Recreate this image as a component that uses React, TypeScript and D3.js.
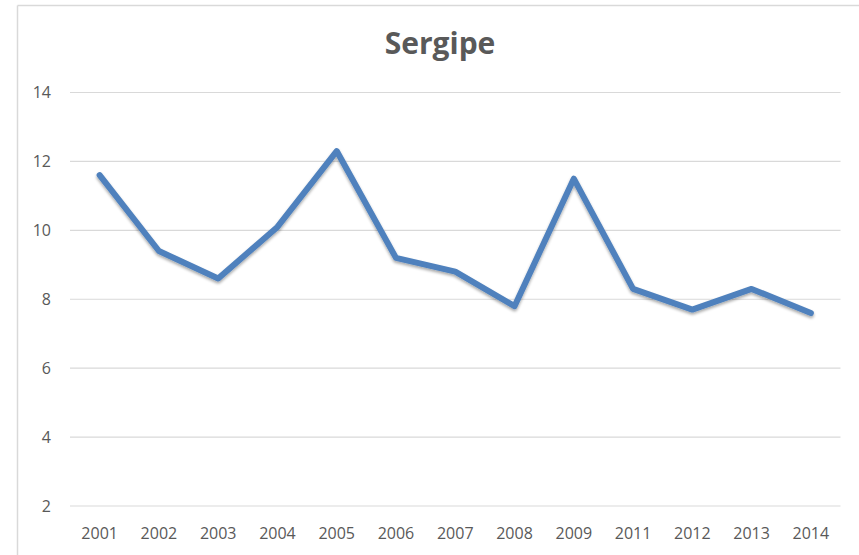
import React from "react";
import * as d3 from "d3";

const years = ["2001", "2002", "2003", "2004", "2005", "2006", "2007", "2008", "2009", "2011", "2012", "2013", "2014"];
const values = [11.6, 9.4, 8.6, 10.1, 12.3, 9.2, 8.8, 7.8, 11.5, 8.3, 7.7, 8.3, 7.6];
const yTicks = [2, 4, 6, 8, 10, 12, 14];
const title = "Sergipe";

const W = 859;
const H = 555;
const plotLeft = 70;
const plotRight = 840.5;
const plotTop = 92.5;
const plotBottom = 506;

export default function App() {
  const x = d3.scaleBand<string>().domain(years).range([plotLeft, plotRight]).paddingInner(0).paddingOuter(0);
  const y = d3.scaleLinear().domain([2, 14]).range([plotBottom, plotTop]);
  const line = d3
    .line<number>()
    .x((_, i) => (x(years[i]) as number) + x.bandwidth() / 2)
    .y((d) => y(d));
  const font = "'Open Sans', 'Liberation Sans', sans-serif";
  return (
    <svg
      width={W}
      height={H}
      style={{ position: "absolute", left: 0, top: 0, background: "#fff" }}
      fontFamily={font}
    >
      <defs>
        <filter id="shadow" x="-10%" y="-10%" width="120%" height="130%">
          <feGaussianBlur in="SourceAlpha" stdDeviation="1.6" />
          <feOffset dx="0" dy="2" result="ob" />
          <feComponentTransfer>
            <feFuncA type="linear" slope="0.35" />
          </feComponentTransfer>
          <feMerge>
            <feMergeNode />
            <feMergeNode in="SourceGraphic" />
          </feMerge>
        </filter>
      </defs>
      <rect x={0} y={0} width={W} height={H} fill="#fff" />
      <line x1={17.5} y1={5.5} x2={W} y2={5.5} stroke="#d9d9d9" strokeWidth={1.5} />
      <line x1={17.5} y1={5.5} x2={17.5} y2={H} stroke="#d9d9d9" strokeWidth={1.5} />
      <text x={440} y={54} textAnchor="middle" fontSize={30} fontWeight="bold" fill="#595959">
        {title}
      </text>
      {yTicks.map((t) => (
        <g key={t}>
          <line x1={plotLeft} x2={plotRight} y1={y(t)} y2={y(t)} stroke="#d9d9d9" strokeWidth={1.2} />
          <text x={51} y={y(t)} dy="0.36em" textAnchor="end" fontSize={16} fill="#595959">
            {t}
          </text>
        </g>
      ))}
      {years.map((yr) => (
        <text
          key={yr}
          x={(x(yr) as number) + x.bandwidth() / 2}
          y={539}
          textAnchor="middle"
          fontSize={16}
          fill="#595959"
        >
          {yr}
        </text>
      ))}
      <path
        d={line(values) || ""}
        fill="none"
        stroke="#4f81bd"
        strokeWidth={6}
        strokeLinejoin="round"
        strokeLinecap="round"
        filter="url(#shadow)"
      />
    </svg>
  );
}
